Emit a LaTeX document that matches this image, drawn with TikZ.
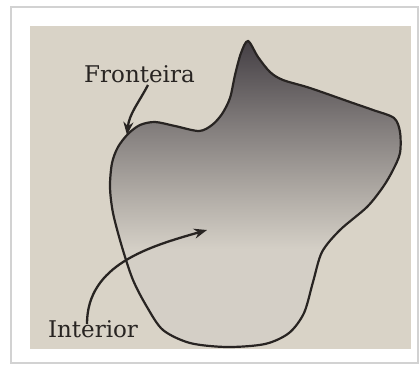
\documentclass[tikz,border=0pt]{standalone}
\usepackage{fontspec}
\setmainfont{DejaVu Serif}
\usepackage{tikz}
\usetikzlibrary{arrows,arrows.meta,positioning,calc}
\definecolor{paper}{RGB}{217,211,199}
\definecolor{inklight}{RGB}{212,207,198}
\definecolor{inkmid}{RGB}{176,171,165}
\definecolor{inkgrey}{RGB}{130,125,124}
\definecolor{inkdark}{RGB}{68,63,68}
\definecolor{ink}{RGB}{40,36,34}
\pgfdeclareverticalshading{blobshade}{100bp}{color(0bp)=(inklight); color(25bp)=(inklight); color(41bp)=(inklight); color(50bp)=(inkmid); color(61bp)=(inkgrey); color(75bp)=(inkdark); color(100bp)=(inkdark)}
\tikzstyle{arrow} = [-{Stealth[length=13pt,width=10pt]},line width=2.3pt,ink]
\tikzstyle{lbl} = [inner sep=0pt,text=ink,font=\fontsize{23}{27}\selectfont]

\begin{document}
\begin{tikzpicture}[x=1pt,y=-1pt]
			\useasboundingbox (0,0) rectangle (420,367);
			\fill[white] (0,0) rectangle (420,367);
			\draw[gray!35,line width=1.5pt] (11,7) rectangle (418,363);
			\fill[paper] (30,26) rectangle (411,349);
			
			% the region and its boundary
			\draw[ink,line width=2.2pt,shading=blobshade] plot[smooth cycle,tension=0.5] coordinates {
				(248,41) (258,57) (270,72) (283,80) (310,88) (350,102) (373,110) (394,118)
				(400,132) (400,153) (393,170) (383,187) (367,207) (340,230) (322,252)
				(313,282) (304,313) (289,333) (265,344) (227,347) (190,343)
				(163,330) (147,307) (133,280) (122,247) (113,213) (110,187)
				(112,163) (118,147) (128,134) (140,125) (155,122) (175,126)
				(199,131) (212,125) (222,114) (230,98) (235,75) (241,53)};
			
			\node[lbl,anchor=base] (fronteira) at (139.5,82) {Fronteira};
			\node[lbl,anchor=base] (interior) at (93,337) {Interior};
			
			\coordinate (borda) at (127,135);
			\coordinate (dentro) at (207,230);
			
			\draw[arrow] ([xshift=8.5pt,yshift=-3pt]fronteira.base) to[out=-118,in=84] (borda);
			\draw[arrow] ([xshift=-6pt,yshift=-4pt]interior.north) to[out=90,in=196] (dentro);
		\end{tikzpicture}
\end{document}
